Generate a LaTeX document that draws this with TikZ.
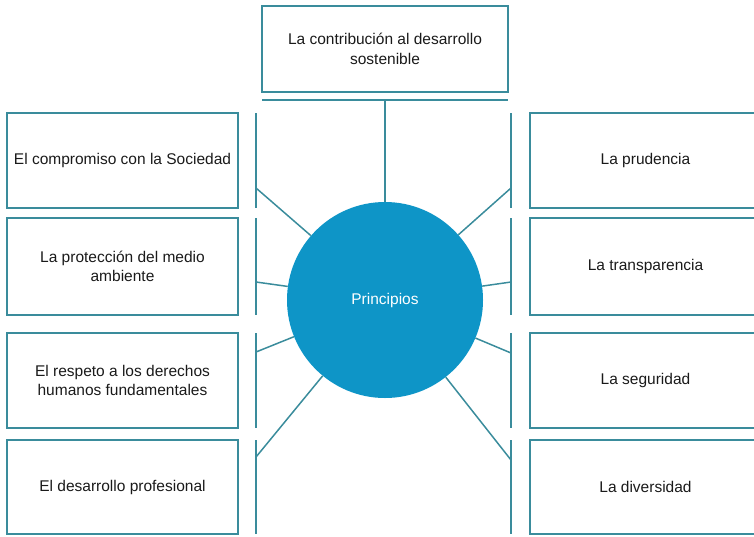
\documentclass[tikz,border=0pt]{standalone}
\usepackage{fontspec}
\setmainfont{Liberation Sans}
\definecolor{edge}{HTML}{3A8C9C}
\definecolor{disc}{HTML}{0E95C7}
\definecolor{ink}{HTML}{1A1A1A}
\begin{document}
\begin{tikzpicture}[x=1pt,y=-1pt,
  box/.style={draw=edge, line width=2pt, align=center, inner sep=0pt,
    font=\fontsize{15.5}{19.5}\selectfont, text=ink},
  sidebox/.style={box, minimum width=231pt},
  bar/.style={draw=edge, line width=2pt},
  spoke/.style={draw=edge, line width=1.5pt}]
\useasboundingbox (0,0) rectangle (754,536);
\clip (0,0) rectangle (754,536);
% top
\node[box, minimum width=246pt, minimum height=86pt] (top) at (385,49)
  {La contribución al desarrollo\\sostenible};
\coordinate (hl) at (262,100);
\coordinate (hr) at (508,100);
\coordinate (hm) at (385,100);
\draw[bar] (hl) -- (hr);
% circle
\node[circle, fill=disc, minimum size=196pt, inner sep=0pt, text=white,
  font=\fontsize{15.5}{18}\selectfont] (c) at (385,300) {Principios};
\draw[spoke] (hm) -- (c);
% left boxes
\node[sidebox, minimum height=95pt] (l1) at (122.5,160.5) {El compromiso con la Sociedad};
\node[sidebox, minimum height=97pt] (l2) at (122.5,266.5) {La protección del medio\\ambiente};
\node[sidebox, minimum height=95pt] (l3) at (122.5,380.5) {El respeto a los derechos\\humanos fundamentales};
\node[sidebox, minimum height=94pt] (l4) at (122.5,487) {El desarrollo profesional};
% right boxes
\node[sidebox, minimum height=95pt] (r1) at (645.5,160.5) {La prudencia};
\node[sidebox, minimum height=97pt] (r2) at (645.5,266.5) {La transparencia};
\node[sidebox, minimum height=95pt] (r3) at (645.5,380.5) {La seguridad};
\node[sidebox, minimum height=94pt] (r4) at (645.5,487) {La diversidad};
% vertical bars
\foreach \a/\b/\n in {113/208/1,218/315/2,333/428/3,440/534/4}{
  \coordinate (lt\n) at (256,\a); \coordinate (lb\n) at (256,\b);
  \coordinate (rt\n) at (511,\a); \coordinate (rb\n) at (511,\b);
  \draw[bar] (lt\n) -- (lb\n);
  \draw[bar] (rt\n) -- (rb\n);
}
% spoke ends
\coordinate (lp1) at (256,188); \coordinate (lp2) at (256,282);
\coordinate (lp3) at (256,352); \coordinate (lp4) at (256,457);
\coordinate (rp1) at (511,188); \coordinate (rp2) at (511,282);
\coordinate (rp3) at (511,353); \coordinate (rp4) at (511,460);
\foreach \n in {1,2,3,4}{
  \draw[spoke] (c) -- (lp\n);
  \draw[spoke] (c) -- (rp\n);
}
\end{tikzpicture}
\end{document}
